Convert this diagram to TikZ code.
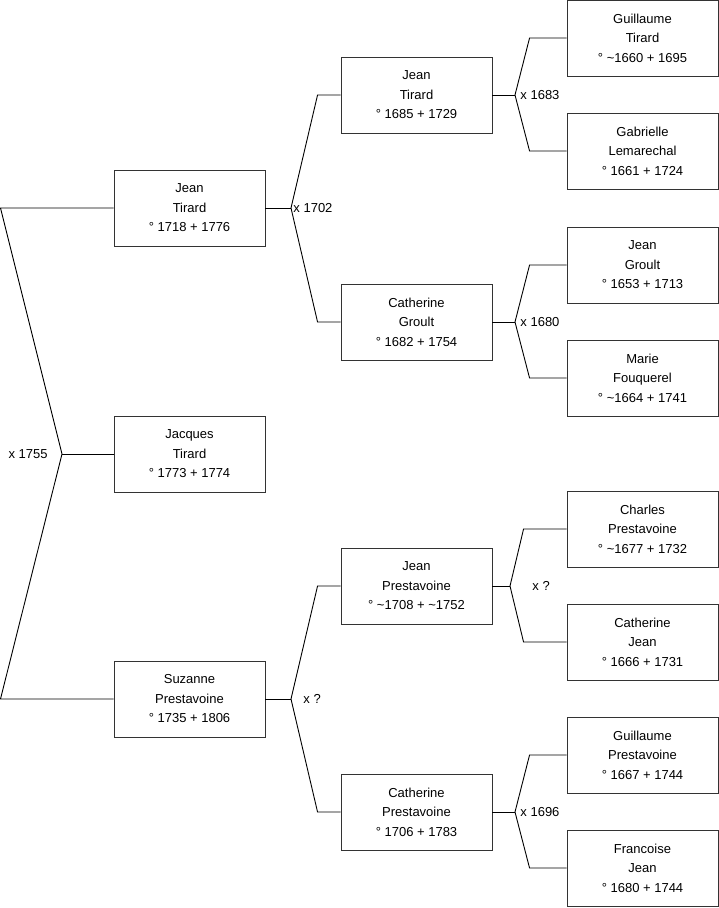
\documentclass[tikz,border=0pt]{standalone}
\usepackage{fontspec}
\setmainfont{Liberation Sans}
\usetikzlibrary{calc}

\tikzset{
  person/.style={draw=black!80,minimum width=151pt,minimum height=76pt,
    inner sep=0pt,align=center,font=\fontsize{13}{19.5}\selectfont},
  wedding/.style={inner sep=0pt,font=\fontsize{13}{15}\selectfont}
}

\begin{document}
\begin{tikzpicture}[x=1pt,y=-1pt,line width=0.9pt]
  \useasboundingbox (0,0) rectangle (719,908);
  % generation 1
  \node[person] (JT)  at (189.5,208) {Jean\\Tirard\\° 1718 + 1776};
  \node[person] (JQ)  at (189.5,454) {Jacques\\Tirard\\° 1773 + 1774};
  \node[person] (SP)  at (189.5,699) {Suzanne\\Prestavoine\\° 1735 + 1806};
  % generation 2
  \node[person] (JT2) at (416.5,95)  {Jean\\Tirard\\° 1685 + 1729};
  \node[person] (CG)  at (416.5,322) {Catherine\\Groult\\° 1682 + 1754};
  \node[person] (JP)  at (416.5,586) {Jean\\Prestavoine\\° \textasciitilde1708 + \textasciitilde1752};
  \node[person] (CP)  at (416.5,812) {Catherine\\Prestavoine\\° 1706 + 1783};
  % generation 3
  \node[person] (GT)  at (642.5,38)  {Guillaume\\Tirard\\° \textasciitilde1660 + 1695};
  \node[person] (GL)  at (642.5,151) {Gabrielle\\Lemarechal\\° 1661 + 1724};
  \node[person] (JG)  at (642.5,265) {Jean\\Groult\\° 1653 + 1713};
  \node[person] (MF)  at (642.5,378) {Marie\\Fouquerel\\° \textasciitilde1664 + 1741};
  \node[person] (CHP) at (642.5,529) {Charles\\Prestavoine\\° \textasciitilde1677 + 1732};
  \node[person] (CJ)  at (642.5,642) {Catherine\\Jean\\° 1666 + 1731};
  \node[person] (GP)  at (642.5,755) {Guillaume\\Prestavoine\\° 1667 + 1744};
  \node[person] (FJ)  at (642.5,868) {Francoise\\Jean\\° 1680 + 1744};

  % junctions
  \coordinate (m0) at (62,454);
  \coordinate (m0a) at (0.5,208);
  \coordinate (m0b) at (0.5,699);
  \coordinate (m1) at (291,208);
  \coordinate (m2) at (291,699);
  \coordinate (m3) at (515,95);
  \coordinate (m4) at (515,322);
  \coordinate (m5) at (510,586);
  \coordinate (m6) at (515,812);

  % children of the couple x 1755
  \draw (JT.west) -- (m0a) -- (m0) -- (m0b) -- (SP.west);
  \draw (m0) -- (JQ.west);
  \node[wedding,anchor=east] (w0) at (48,454) {x 1755};

  % parents
  \draw (JT.east) -- (m1);
  \draw (m1) -- ([xshift=-23pt]JT2.west) -- (JT2.west);
  \draw (m1) -- ([xshift=-23pt]CG.west) -- (CG.west);
  \node[wedding,anchor=west] (w1) at (293,208) {x 1702};

  \draw (SP.east) -- (m2);
  \draw (m2) -- ([xshift=-23pt]JP.west) -- (JP.west);
  \draw (m2) -- ([xshift=-23pt]CP.west) -- (CP.west);
  \node[wedding,anchor=west] (w2) at (303,699) {x ?};

  % grandparents
  \draw (JT2.east) -- (m3);
  \draw (m3) -- ([xshift=-37pt]GT.west) -- (GT.west);
  \draw (m3) -- ([xshift=-37pt]GL.west) -- (GL.west);
  \node[wedding,anchor=west] (w3) at (520,95) {x 1683};

  \draw (CG.east) -- (m4);
  \draw (m4) -- ([xshift=-37pt]JG.west) -- (JG.west);
  \draw (m4) -- ([xshift=-37pt]MF.west) -- (MF.west);
  \node[wedding,anchor=west] (w4) at (520,322) {x 1680};

  \draw (JP.east) -- (m5);
  \draw (m5) -- ([xshift=-43pt]CHP.west) -- (CHP.west);
  \draw (m5) -- ([xshift=-43pt]CJ.west) -- (CJ.west);
  \node[wedding,anchor=west] (w5) at (532,586) {x ?};

  \draw (CP.east) -- (m6);
  \draw (m6) -- ([xshift=-37pt]GP.west) -- (GP.west);
  \draw (m6) -- ([xshift=-37pt]FJ.west) -- (FJ.west);
  \node[wedding,anchor=west] (w6) at (520,812) {x 1696};
\end{tikzpicture}
\end{document}
